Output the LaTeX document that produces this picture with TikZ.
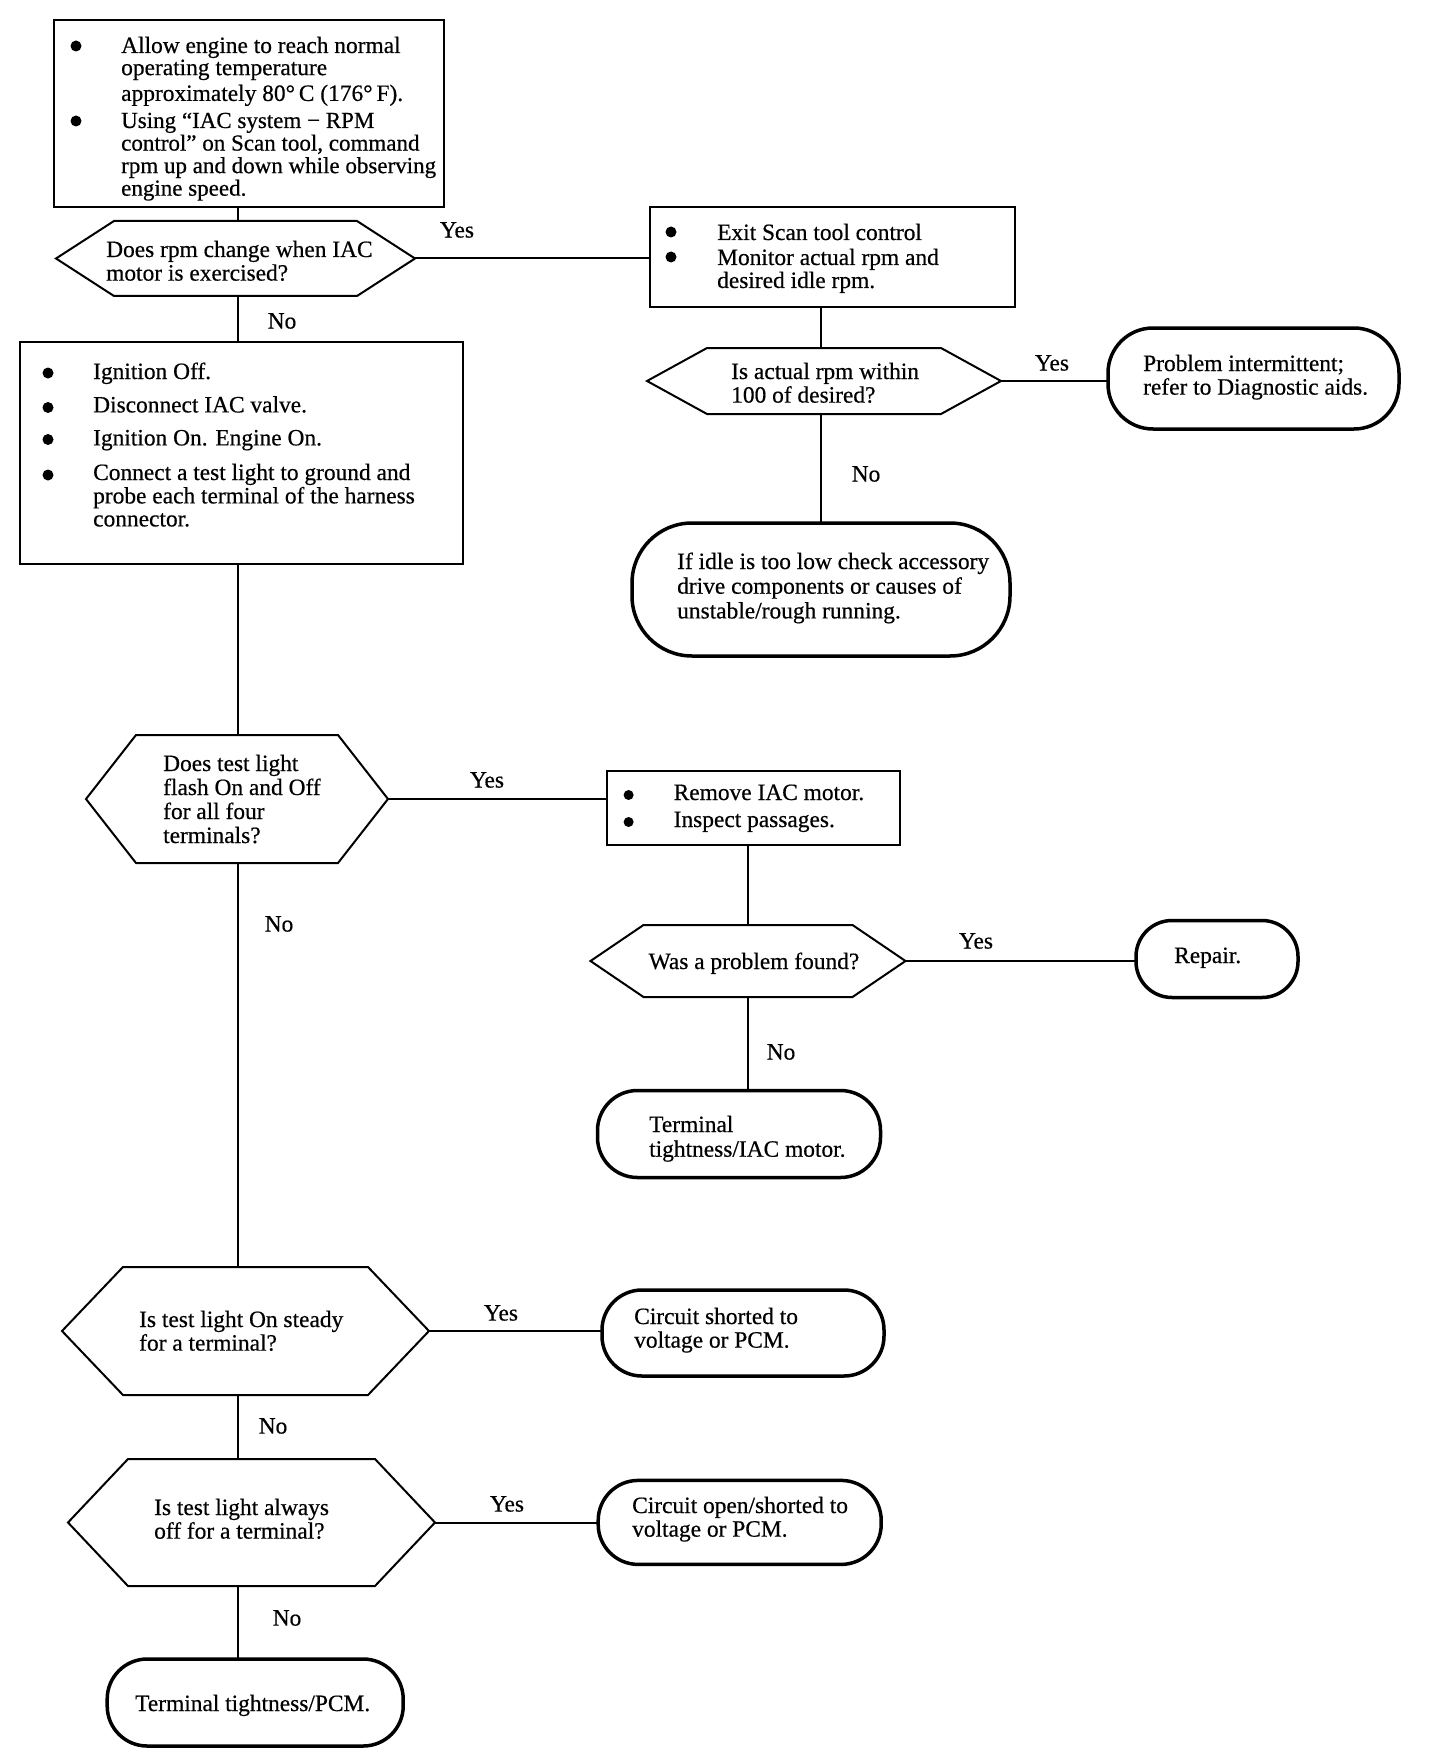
\documentclass[tikz,border=0pt]{standalone}
\usepackage{fontspec}
\setmainfont{Liberation Serif}[FakeBold=0.5]
\usetikzlibrary{calc}
\newcommand\fs{\fontsize{23.4}{22}\selectfont}
\newcommand\lines[2][22]{{\fontsize{23.4}{#1}\selectfont\begin{tabular}[t]{@{}l@{}}#2\end{tabular}}}
\newcommand\linessm[1]{{\fontsize{23.0}{22}\selectfont\begin{tabular}[t]{@{}l@{}}#1\end{tabular}}}
\tikzset{
  boxn/.style={draw, line width=2pt, inner sep=0pt, outer sep=0pt},
  hexbox/.style={inner sep=0pt, outer sep=0pt},
  hexline/.style={line width=2pt, line join=miter},
  term/.style={draw, line width=3.5pt, rounded corners=#1, inner sep=0pt, outer sep=0pt},
  txt/.style={anchor=base west, inner sep=0pt, font=\fs},
  lbl/.style={anchor=center, inner sep=0pt, font=\fs},
  conn/.style={line width=2pt},
  bul/.style={fill=black}
}
\newcommand\hexa[6]{%
  \node[hexbox, minimum width=#4pt, minimum height=#5pt] (#1) at (#2,#3) {};
  \draw[hexline] (#1.west) -- ([xshift=#6pt]#1.north west) -- ([xshift=-#6pt]#1.north east) -- (#1.east) -- ([xshift=-#6pt]#1.south east) -- ([xshift=#6pt]#1.south west) -- cycle;}
\begin{document}
\begin{tikzpicture}[x=1pt, y=-1pt]
\useasboundingbox[fill=white] (0,0) rectangle (1440,1760);
\coordinate (spine) at (238,0);
\coordinate (colb) at (821,0);
\coordinate (colc) at (748,0);

% ---------- shapes ----------
\node[boxn, minimum width=390pt, minimum height=187pt] (box1) at (249,113.5) {};
\hexa{dec1}{235.5}{258.5}{359}{75}{58}
\node[boxn, minimum width=365pt, minimum height=100pt] (box2) at (832.7,257) {};
\hexa{dec2}{824}{381}{354}{66}{60}
\node[term=45pt, minimum width=291pt, minimum height=101pt] (t1) at (1253.5,378.5) {};
\node[term=60pt, minimum width=378pt, minimum height=133pt] (t2) at (821,589.5) {};
\node[boxn, minimum width=443pt, minimum height=222pt] (box3) at (241.5,453) {};
\hexa{dec3}{237}{799}{302}{128}{50}
\node[boxn, minimum width=293pt, minimum height=74pt] (box4) at (753,808) {};
\hexa{dec4}{748}{961}{315}{72}{53}
\node[term=36pt, minimum width=162pt, minimum height=77pt] (trep) at (1217,959) {};
\node[term=40pt, minimum width=283pt, minimum height=87pt] (tiac) at (739,1134) {};
\hexa{dec5}{245.5}{1331}{367}{128}{61}
\node[term=40pt, minimum width=282pt, minimum height=86pt] (tshort) at (743,1333) {};
\hexa{dec6}{251.5}{1522.5}{367}{127}{60}
\node[term=40pt, minimum width=283pt, minimum height=84pt] (topen) at (739.7,1522.4) {};
\node[term=40pt, minimum width=296pt, minimum height=87pt] (tpcm) at (255.2,1702.5) {};

% ---------- connectors ----------
\draw[conn] (box1.south -| spine) -- (dec1.north -| spine);
\draw[conn] (dec1.south -| spine) -- (box3.north -| spine);
\draw[conn] (box3.south -| spine) -- (dec3.north -| spine);
\draw[conn] (dec3.south -| spine) -- (dec5.north -| spine);
\draw[conn] (dec5.south -| spine) -- (dec6.north -| spine);
\draw[conn] (dec6.south -| spine) -- (tpcm.north -| spine);
\draw[conn] (dec1.east) -- (dec1.east -| box2.west);
\draw[conn] (box2.south -| colb) -- (dec2.north -| colb);
\draw[conn] (dec2.south -| colb) -- (t2.north -| colb);
\draw[conn] (dec2.east) -- (dec2.east -| t1.west);
\draw[conn] (dec3.east) -- (dec3.east -| box4.west);
\draw[conn] (box4.south -| colc) -- (dec4.north -| colc);
\draw[conn] (dec4.south -| colc) -- (tiac.north -| colc);
\draw[conn] (dec4.east) -- (dec4.east -| trep.west);
\draw[conn] (dec5.east) -- (dec5.east -| tshort.west);
\draw[conn] (dec6.east) -- (dec6.east -| topen.west);

% ---------- bullets ----------
\fill[bul] (76,46) circle (5.5pt);
\fill[bul] (76,121) circle (5.5pt);
\fill[bul] (671,232) circle (5.5pt);
\fill[bul] (671,257) circle (5.5pt);
\fill[bul] (48,373) circle (5.5pt);
\fill[bul] (48,407.5) circle (5.5pt);
\fill[bul] (48,439.5) circle (5.5pt);
\fill[bul] (48,475) circle (5.5pt);
\fill[bul] (628.6,795) circle (5pt);
\fill[bul] (628.6,822) circle (5pt);

% ---------- texts ----------
\node[txt] (b1a) at (121,53) {\lines{Allow engine to reach normal\\ operating temperature\\[3pt] approximately 80°\,C (176°\,F).}};
\node[txt] (b1b) at (121,128) {\linessm{Using “IAC system − RPM\\ control” on Scan tool, command\\ rpm up and down while observing\\ engine speed.}};
\node[txt] (d1t) at (106,257) {\lines[23.6]{Does rpm change when IAC\\ motor is exercised?}};
\node[txt] (b2a) at (717,240) {Exit Scan tool control};
\node[txt] (b2b) at (717,265) {\lines[22.5]{Monitor actual rpm and\\ desired idle rpm.}};
\node[txt] (d2t) at (731,379) {\lines[23.6]{Is actual rpm within\\ 100 of desired?}};
\node[txt] (t1t) at (1143,371) {\lines[23.6]{Problem intermittent;\\ refer to Diagnostic aids.}};
\node[txt] (t2t) at (677,569) {\lines[24.7]{If idle is too low check accessory\\ drive components or causes of\\ unstable/rough running.}};
\node[txt] (b3a) at (93,379) {Ignition Off.};
\node[txt] (b3b) at (93,412.4) {Disconnect IAC valve.};
\node[txt] (b3c) at (93,445.4) {Ignition On. Engine On.};
\node[txt] (b3d) at (93,480) {\lines[23]{Connect a test light to ground and\\ probe each terminal of the harness\\ connector.}};
\node[txt] (d3t) at (163,771) {\lines[24]{Does test light\\ flash On and Off\\ for all four\\ terminals?}};
\node[txt] (b4a) at (673.5,800) {Remove IAC motor.};
\node[txt] (b4b) at (673.5,827) {Inspect passages.};
\node[txt] (d4t) at (648.5,969) {Was a problem found?};
\node[txt] (trt) at (1174,963) {Repair.};
\node[txt] (tit) at (649,1132) {\lines[24.7]{Terminal\\ tightness/IAC motor.}};
\node[txt] (d5t) at (139,1327) {\lines[23.6]{Is test light On steady\\ for a terminal?}};
\node[txt] (tst) at (634,1324) {\lines[23.6]{Circuit shorted to\\ voltage or PCM.}};
\node[txt] (d6t) at (154,1515) {\lines[23.6]{Is test light always\\ off for a terminal?}};
\node[txt] (tot) at (632,1513) {\lines[23.6]{Circuit open/shorted to\\ voltage or PCM.}};
\node[txt] (tpt) at (135,1711) {Terminal tightness/PCM.};

% ---------- labels ----------
\node[lbl] (y1) at (457,230) {Yes};
\node[lbl] (n1) at (282,321) {No};
\node[lbl] (y2) at (1052,363) {Yes};
\node[lbl] (n2) at (866,474) {No};
\node[lbl] (y3) at (487,780) {Yes};
\node[lbl] (n3) at (279,924) {No};
\node[lbl] (y4) at (976,941) {Yes};
\node[lbl] (n4) at (781,1052) {No};
\node[lbl] (y5) at (501,1313) {Yes};
\node[lbl] (n5) at (273,1426) {No};
\node[lbl] (y6) at (507,1504) {Yes};
\node[lbl] (n6) at (287,1618) {No};
\end{tikzpicture}
\end{document}
